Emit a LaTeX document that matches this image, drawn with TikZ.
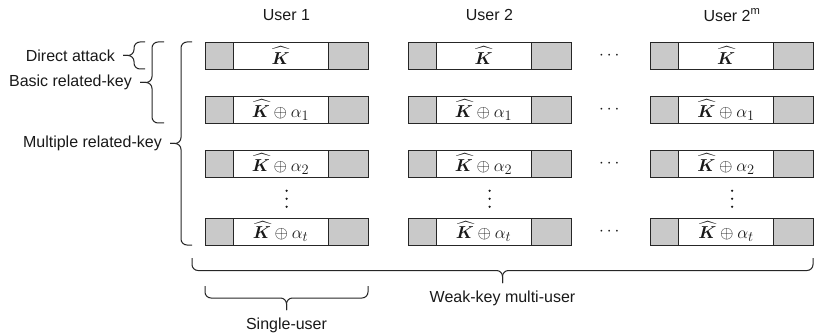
\documentclass[tikz,border=0pt]{standalone}
\usepackage{amsmath,bm}
\usepackage{fontspec}
\setmainfont{Liberation Sans}
\usetikzlibrary{calc}
\newcommand\Kh{\widehat{\boldsymbol{K}}}
\newcommand\mybraceL[4]{% x, ytop, ybot, amplitude (points left)
  \draw[bracestyle] (#1,#2) -- ({#1-#4/2},#2) -- ({#1-#4/2},{(#2+#3)/2}) -- ({#1-#4},{(#2+#3)/2});
  \draw[bracestyle] (#1,#3) -- ({#1-#4/2},#3) -- ({#1-#4/2},{(#2+#3)/2}) -- ({#1-#4},{(#2+#3)/2});}
\newcommand\mybraceD[4]{% x1, x2, ytop, amplitude (points down)
  \draw[bracestyle] (#1,#3) -- (#1,{#3+#4/2}) -- ({(#1+#2)/2},{#3+#4/2}) -- ({(#1+#2)/2},{#3+#4});
  \draw[bracestyle] (#2,#3) -- (#2,{#3+#4/2}) -- ({(#1+#2)/2},{#3+#4/2}) -- ({(#1+#2)/2},{#3+#4});}
\begin{document}
\begin{tikzpicture}[x=1pt,y=-1pt,
  every node/.style={font=\fontsize{16}{19}\selectfont, text=black!90},
  mathtxt/.style={font=\fontsize{19}{22}\selectfont},
  seg/.style={draw=black!85, line width=0.9pt, minimum height=27pt, inner sep=0pt, outer sep=0pt, anchor=north west},
  grayseg/.style={seg, fill=black!21},
  whiteseg/.style={seg, mathtxt, fill=white, minimum width=95pt},
  dotsnode/.style={mathtxt, inner sep=0pt},
  vdot/.style={fill=black!90},
  bracestyle/.style={draw=black!85, line width=1pt, rounded corners=6pt},
  lab/.style={anchor=east, inner sep=0pt}]
\useasboundingbox (0,0) rectangle (814,334);
% users
\node (u1) at (286.5,15) {User 1};
\node (u2) at (489.5,15) {User 2};
\node (u3) at (732,15) {User 2\textsuperscript{m}};
% boxes
\foreach \c/\x in {1/205,2/408,3/650.5}{
  \foreach \r/\y/\t in {1/42/{\Kh}, 2/96.5/{\Kh\oplus\alpha_1}, 3/150.5/{\Kh\oplus\alpha_2}, 4/218/{\Kh\oplus\alpha_t}}{
    \node[grayseg, minimum width=28pt] (c\c r\r a) at (\x,\y) {};
    \node[whiteseg] (c\c r\r b) at (c\c r\r a.north east) {$\t$};
    \node[grayseg, minimum width=40pt] (c\c r\r c) at (c\c r\r b.north east) {};
  }
  \coordinate (v\c) at ($(c\c r3a.south west)!0.5!(c\c r4c.north east)+(0,1)$);
  \fill[vdot] ($(v\c)+(0,-8)$) circle (1.25);
  \fill[vdot] (v\c) circle (1.25);
  \fill[vdot] ($(v\c)+(0,8)$) circle (1.25);
}
\foreach \r in {1,2,3,4}{
  \node[dotsnode] (h\r) at ($(c2r\r c.east)!0.5!(c3r\r a.west)$) {$\cdots$};
}
% left braces
\mybraceL{145}{42}{69}{22}
\mybraceL{164}{42}{123}{24}
\mybraceL{192}{42}{245}{22}
\node[lab] (lda) at (115,55.5) {Direct attack};
\node[lab] (lbr) at (132,82.5) {Basic related-key};
\node[lab] (lmr) at (162,143.5) {Multiple related-key};
% bottom braces
\mybraceD{192}{813}{258}{25}
\mybraceD{205}{368}{286}{24}
\node (lwk) at (502.5,298) {Weak-key multi-user};
\node (lsu) at (286.5,325) {Single-user};
\end{tikzpicture}
\end{document}
